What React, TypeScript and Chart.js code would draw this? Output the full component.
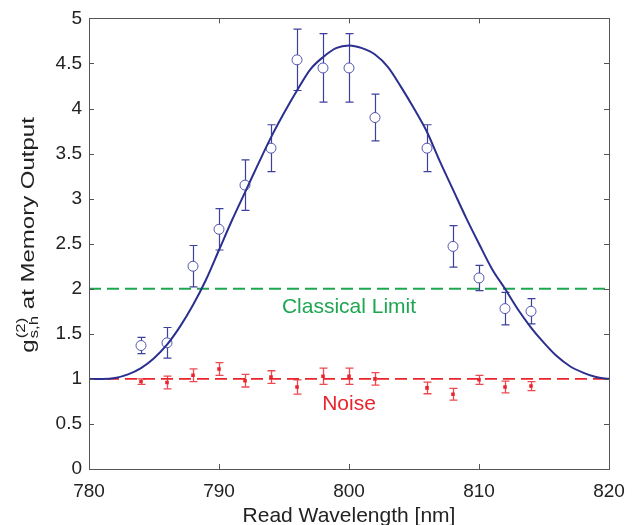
import React, { useEffect, useRef } from "react";
import { Chart, registerables } from "chart.js";

Chart.register(...registerables);

const FONT = "'Liberation Sans', Arial, Helvetica, sans-serif";

// Data
const wavelengths = [784, 786, 788, 790, 792, 794, 796, 798, 800, 802, 806, 808, 810, 812, 814];
const signalValues = [1.37, 1.4, 2.25, 2.66, 3.15, 3.56, 4.54, 4.45, 4.45, 3.9, 3.56, 2.47, 2.12, 1.78, 1.75];
const signalErrors = [0.09, 0.17, 0.23, 0.23, 0.28, 0.26, 0.34, 0.38, 0.38, 0.26, 0.26, 0.23, 0.14, 0.18, 0.14];
const noiseValues = [0.97, 0.96, 1.04, 1.11, 0.98, 1.02, 0.91, 1.03, 1.03, 1.0, 0.9, 0.83, 0.99, 0.91, 0.92];
const noiseErrors = [0.03, 0.07, 0.07, 0.07, 0.07, 0.07, 0.08, 0.09, 0.09, 0.07, 0.065, 0.065, 0.05, 0.065, 0.05];

const curveX = [
  780, 781, 782, 783, 784, 785, 786, 787, 788, 789, 790, 791, 792, 793, 794, 795, 796, 797, 798, 799, 800,
  801, 802, 803, 804, 805, 806, 807, 808, 809, 810, 811, 812, 813, 814, 815, 816, 817, 818, 819, 820,
];
const curveY = [
  1.0, 1.0, 1.01, 1.05, 1.12, 1.23, 1.38, 1.58, 1.82, 2.1, 2.43, 2.76, 3.07, 3.38, 3.68, 3.95, 4.2, 4.43, 4.57,
  4.67, 4.7, 4.67, 4.6, 4.46, 4.24, 4.0, 3.74, 3.41, 3.1, 2.79, 2.5, 2.22, 2.0, 1.77, 1.57, 1.4, 1.25, 1.14, 1.07,
  1.02, 1.0,
];

const classicalLimit = 2;
const noiseLevel = 1;
const xRange = [780, 820];
const yRange = [0, 5];
const xTickLabels = ["780", "790", "800", "810", "820"];
const yTickLabels = ["0", "0.5", "1", "1.5", "2", "2.5", "3", "3.5", "4", "4.5", "5"];

const BLUE_LINE = "#2b2f8f";
const BLUE_PT = "#5155ad";
const RED = "#e8242c";
const GREEN = "#1ea651";

const errorBarPlugin = {
  id: "errorBars",
  beforeDatasetsDraw(chart: any) {
    const ctx = chart.ctx;
    const xs = chart.scales.x;
    const ys = chart.scales.y;
    const drawSet = (vals: number[], errs: number[], color: string, cap: number, lw: number) => {
      ctx.save();
      ctx.strokeStyle = color;
      ctx.lineWidth = lw;
      for (let i = 0; i < wavelengths.length; i++) {
        const px = Math.round(xs.getPixelForValue(wavelengths[i])) + 0.5;
        const yTop = ys.getPixelForValue(vals[i] + errs[i]);
        const yBot = ys.getPixelForValue(vals[i] - errs[i]);
        ctx.beginPath();
        ctx.moveTo(px, yTop);
        ctx.lineTo(px, yBot);
        ctx.moveTo(px - cap, yTop);
        ctx.lineTo(px + cap, yTop);
        ctx.moveTo(px - cap, yBot);
        ctx.lineTo(px + cap, yBot);
        ctx.stroke();
      }
      ctx.restore();
    };
    drawSet(signalValues, signalErrors, "#3d419c", 4, 1.2);
    drawSet(noiseValues, noiseErrors, "#ec4a52", 4, 1.3);
  },
};

const framePlugin = {
  id: "frameAndText",
  afterDraw(chart: any) {
    const ctx = chart.ctx;
    const { left, right, top, bottom } = chart.chartArea;
    const xs = chart.scales.x;
    const ys = chart.scales.y;
    ctx.save();
    ctx.strokeStyle = "#555";
    ctx.lineWidth = 1;
    ctx.strokeRect(Math.round(left) + 0.5, Math.round(top) + 0.5, Math.round(right - left), Math.round(bottom - top));
    const tl = 5;
    ctx.beginPath();
    xTickLabels.forEach((t) => {
      const px = Math.round(xs.getPixelForValue(Number(t))) + 0.5;
      ctx.moveTo(px, bottom);
      ctx.lineTo(px, bottom - tl);
      ctx.moveTo(px, top);
      ctx.lineTo(px, top + tl);
    });
    yTickLabels.forEach((t) => {
      const py = Math.round(ys.getPixelForValue(Number(t))) + 0.5;
      ctx.moveTo(left, py);
      ctx.lineTo(left + tl, py);
      ctx.moveTo(right, py);
      ctx.lineTo(right - tl, py);
    });
    ctx.stroke();

    // annotations
    const cx = xs.getPixelForValue(800);
    ctx.textAlign = "center";
    ctx.textBaseline = "alphabetic";
    ctx.font = `21px ${FONT}`;
    ctx.fillStyle = GREEN;
    ctx.fillText("Classical Limit", cx, 313);
    ctx.fillStyle = RED;
    ctx.fillText("Noise", cx, 410);

    // x title
    ctx.fillStyle = "#222";
    ctx.fillText("Read Wavelength [nm]", (left + right) / 2, 522);

    // y title with super/subscripts (glyphs appear stretched along the axis in the reference)
    ctx.save();
    ctx.translate(33.5, 235);
    ctx.rotate(-Math.PI / 2);
    ctx.scale(1.2, 0.9);
    ctx.textAlign = "left";
    const main = `20px ${FONT}`;
    const small = `14px ${FONT}`;
    ctx.font = main;
    const wg = ctx.measureText("g").width;
    const rest = " at Memory Output";
    const wrest = ctx.measureText(rest).width;
    ctx.font = small;
    const wsup = ctx.measureText("(2)").width;
    const wsub = ctx.measureText("s,h").width;
    const ws = Math.max(wsup, wsub);
    const total = wg + 1 + ws + wrest;
    let x = -total / 2;
    ctx.font = main;
    ctx.fillText("g", x, 0);
    x += wg + 1;
    ctx.font = small;
    ctx.fillText("(2)", x, -10);
    ctx.fillText("s,h", x, 5);
    x += ws;
    ctx.font = main;
    ctx.fillText(rest, x, 0);
    ctx.restore();

    ctx.restore();
  },
};

export default function App() {
  const canvasRef = useRef<HTMLCanvasElement | null>(null);

  useEffect(() => {
    document.body.style.margin = "0";
    const canvas = canvasRef.current;
    if (!canvas) return;
    const chart = new Chart(canvas, {
      type: "scatter",
      data: {
        datasets: [
          {
            type: "line",
            data: curveX.map((x, i) => ({ x, y: curveY[i] })),
            borderColor: BLUE_LINE,
            borderWidth: 2,
            pointRadius: 0,
            fill: false,
            cubicInterpolationMode: "monotone",
          } as any,
          {
            type: "line",
            data: xRange.map((x) => ({ x, y: classicalLimit })),
            borderColor: GREEN,
            borderWidth: 1.8,
            borderDash: [12, 6],
            pointRadius: 0,
            fill: false,
          } as any,
          {
            type: "line",
            data: xRange.map((x) => ({ x, y: noiseLevel })),
            borderColor: RED,
            borderWidth: 1.8,
            borderDash: [12, 6],
            pointRadius: 0,
            fill: false,
          } as any,
          {
            data: wavelengths.map((x, i) => ({ x, y: noiseValues[i] })),
            pointStyle: "rect",
            pointRadius: 2.5,
            backgroundColor: RED,
            borderColor: RED,
            borderWidth: 0,
            showLine: false,
          },
          {
            data: wavelengths.map((x, i) => ({ x, y: signalValues[i] })),
            pointStyle: "circle",
            pointRadius: 5,
            backgroundColor: "#ffffff",
            borderColor: BLUE_PT,
            borderWidth: 1,
            showLine: false,
          },
        ],
      },
      options: {
        animation: false,
        responsive: false,
        maintainAspectRatio: false,
        layout: { padding: { top: 14, right: 32, left: 0, bottom: 0 } },
        plugins: { legend: { display: false }, tooltip: { enabled: false } },
        scales: {
          x: {
            type: "linear",
            min: xRange[0],
            max: xRange[1],
            grid: { display: false, drawTicks: false },
            border: { display: false },
            ticks: {
              stepSize: 10,
              padding: 11,
              autoSkip: false,
              maxRotation: 0,
              color: "#222",
              font: { family: FONT, size: 19 },
              callback: (v: any) => {
                const s = String(v);
                return xTickLabels.includes(s) ? s : "";
              },
            },
            afterFit: (s: any) => {
              s.height = 56;
            },
          },
          y: {
            type: "linear",
            min: yRange[0],
            max: yRange[1],
            grid: { display: false, drawTicks: false },
            border: { display: false },
            ticks: {
              stepSize: 0.5,
              padding: 7,
              autoSkip: false,
              color: "#222",
              font: { family: FONT, size: 19 },
              callback: (v: any) => {
                const s = String(v);
                return yTickLabels.includes(s) ? s : "";
              },
            },
            afterFit: (s: any) => {
              s.width = 89;
            },
          },
        },
      },
      plugins: [errorBarPlugin, framePlugin],
    });
    return () => chart.destroy();
  }, []);

  return (
    <div style={{ width: 641, height: 525, position: "relative" }}>
      <canvas ref={canvasRef} width={641} height={525} style={{ display: "block" }} />
    </div>
  );
}
